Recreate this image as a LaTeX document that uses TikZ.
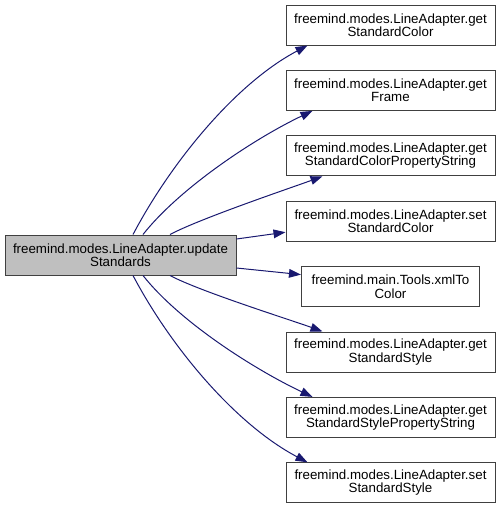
\documentclass[tikz,border=0pt]{standalone}
\usepackage{fontspec}
\setmainfont{Liberation Sans}
\usetikzlibrary{arrows.meta,positioning}
\definecolor{callcol}{RGB}{25,25,112}
\definecolor{curcol}{RGB}{191,191,191}
\tikzset{
  fn/.style={draw=black!75, line width=0.75pt, fill=white, align=center, font=\fontsize{10}{10}\selectfont, inner sep=2pt, minimum width=156.75pt, minimum height=30pt},
  cur/.style={fn, fill=curcol, minimum width=173.25pt},
  call/.style={-{Triangle[length=9pt,width=6.5pt]}, line width=0.75pt, draw=callcol},
}
\begin{document}
\begin{tikzpicture}[x=0.75pt, y=-0.75pt, node distance=18.3pt]
  \useasboundingbox (0,0) rectangle (501,508);
  \node[cur] (upd) at (120.5,255) {freemind.modes.LineAdapter.update\\Standards};
  \node[fn] (getcol) at (390.5,25) {freemind.modes.LineAdapter.get\\StandardColor};
  \node[fn, below=of getcol] (getframe) {freemind.modes.LineAdapter.get\\Frame};
  \node[fn, below=of getframe] (getcolprop) {freemind.modes.LineAdapter.get\\StandardColorPropertyString};
  \node[fn, below=of getcolprop] (setcol) {freemind.modes.LineAdapter.set\\StandardColor};
  \node[fn, below=of setcol, minimum width=133.5pt] (xmltocol) {freemind.main.Tools.xmlTo\\Color};
  \node[fn, below=of xmltocol] (getstyle) {freemind.modes.LineAdapter.get\\StandardStyle};
  \node[fn, below=of getstyle] (getstyleprop) {freemind.modes.LineAdapter.get\\StandardStylePropertyString};
  \node[fn, below=of getstyleprop] (setstyle) {freemind.modes.LineAdapter.set\\StandardStyle};
  % calls
  \draw[call] ([shift={(12.5,0)}]upd.north) .. controls +(38,-72) and +(-72,38) .. ([shift={(22,0)}]getcol.south west);
  \draw[call] ([shift={(22.5,0)}]upd.north) .. controls +(38,-48) and +(-55,26) .. ([shift={(27,0)}]getframe.south west);
  \draw[call] ([shift={(49.5,0)}]upd.north) .. controls +(30,-16) and +(-30,11) .. ([shift={(37,0)}]getcolprop.south west);
  \draw[call] ([shift={(0,-16)}]upd.east) -- ([shift={(0,11)}]setcol.west);
  \draw[call] ([shift={(0,13)}]upd.east) -- ([shift={(0,-12)}]xmltocol.west);
  \draw[call] ([shift={(49.5,0)}]upd.south) .. controls +(30,16) and +(-30,-11) .. ([shift={(37,0)}]getstyle.north west);
  \draw[call] ([shift={(22.5,0)}]upd.south) .. controls +(38,48) and +(-55,-26) .. ([shift={(27,0)}]getstyleprop.north west);
  \draw[call] ([shift={(12.5,0)}]upd.south) .. controls +(38,72) and +(-72,-38) .. ([shift={(22,0)}]setstyle.north west);
\end{tikzpicture}
\end{document}
